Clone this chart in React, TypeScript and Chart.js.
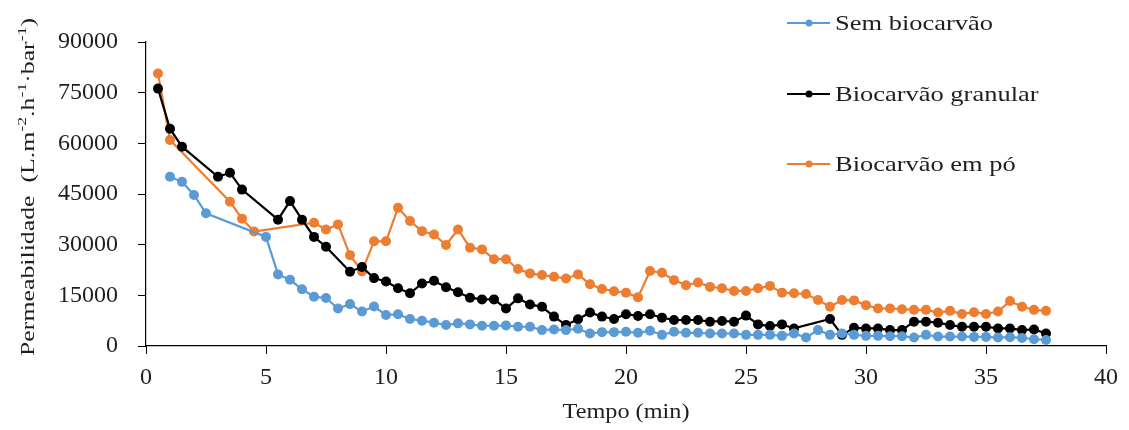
import React, { useEffect, useRef } from "react";
import { Chart, registerables } from "chart.js";

Chart.register(...registerables);

const semX = [1, 1.5, 2, 2.5, 5, 5.5, 6, 6.5, 7, 7.5, 8, 8.5, 9, 9.5, 10, 10.5, 11, 11.5, 12, 12.5, 13, 13.5, 14, 14.5, 15, 15.5, 16, 16.5, 17, 17.5, 18, 18.5, 19, 19.5, 20, 20.5, 21, 21.5, 22, 22.5, 23, 23.5, 24, 24.5, 25, 25.5, 26, 26.5, 27, 27.5, 28, 28.5, 29, 29.5, 30, 30.5, 31, 31.5, 32, 32.5, 33, 33.5, 34, 34.5, 35, 35.5, 36, 36.5, 37, 37.5];
const semY = [50100, 48600, 44700, 39300, 32300, 21200, 19600, 16800, 14600, 14200, 11100, 12400, 10200, 11700, 9200, 9400, 8000, 7500, 6900, 6200, 6700, 6400, 6000, 6000, 6100, 5700, 5700, 4700, 4900, 4700, 5100, 3700, 4100, 4100, 4200, 3900, 4500, 3300, 4200, 3900, 3900, 3700, 3700, 3700, 3300, 3300, 3300, 3000, 3700, 2500, 4700, 3300, 3700, 3300, 3000, 3000, 2900, 2900, 2500, 3300, 2800, 2800, 2800, 2700, 2700, 2500, 2600, 2400, 2000, 1800];

const granX = [0.5, 1, 1.5, 3, 3.5, 4, 5.5, 6, 6.5, 7, 7.5, 8.5, 9, 9.5, 10, 10.5, 11, 11.5, 12, 12.5, 13, 13.5, 14, 14.5, 15, 15.5, 16, 16.5, 17, 17.5, 18, 18.5, 19, 19.5, 20, 20.5, 21, 21.5, 22, 22.5, 23, 23.5, 24, 24.5, 25, 25.5, 26, 26.5, 27, 28.5, 29, 29.5, 30, 30.5, 31, 31.5, 32, 32.5, 33, 33.5, 34, 34.5, 35, 35.5, 36, 36.5, 37, 37.5];
const granY = [76200, 64300, 59000, 50100, 51300, 46300, 37400, 42900, 37400, 32300, 29400, 22000, 23400, 20100, 19100, 17100, 15600, 18500, 19300, 17400, 15900, 14300, 13800, 13800, 11100, 14100, 12300, 11600, 8700, 6200, 7900, 9900, 8700, 8000, 9400, 8900, 9400, 8400, 7700, 7700, 7700, 7200, 7400, 7200, 9000, 6400, 5900, 6400, 5200, 8000, 3300, 5400, 5200, 5200, 4700, 4700, 7200, 7200, 6900, 6200, 5700, 5700, 5700, 5200, 5200, 4700, 4900, 3700];

const poX = [0.5, 1, 3.5, 4, 4.5, 7, 7.5, 8, 8.5, 9, 9.5, 10, 10.5, 11, 11.5, 12, 12.5, 13, 13.5, 14, 14.5, 15, 15.5, 16, 16.5, 17, 17.5, 18, 18.5, 19, 19.5, 20, 20.5, 21, 21.5, 22, 22.5, 23, 23.5, 24, 24.5, 25, 25.5, 26, 26.5, 27, 27.5, 28, 28.5, 29, 29.5, 30, 30.5, 31, 31.5, 32, 32.5, 33, 33.5, 34, 34.5, 35, 35.5, 36, 36.5, 37, 37.5];
const poY = [80700, 61000, 42700, 37700, 33900, 36500, 34500, 36000, 26900, 22100, 31000, 31000, 40900, 37000, 34000, 33000, 29900, 34500, 29100, 28600, 25700, 25700, 22800, 21500, 21000, 20500, 20000, 21200, 18300, 16900, 16200, 15800, 14400, 22200, 21700, 19500, 18000, 18800, 17500, 17100, 16300, 16300, 17100, 17800, 15800, 15600, 15400, 13600, 11600, 13600, 13500, 12100, 11100, 11100, 10900, 10700, 10700, 9900, 10400, 9500, 10000, 9500, 10200, 13300, 11600, 10700, 10400];

const seriesNames = ["Sem biocarvão", "Biocarvão granular", "Biocarvão em pó"];
const seriesColors = ["#5B9BD5", "#000000", "#ED7D31"];
const xTitle = "Tempo (min)";
const yTitleParts: [string, boolean][] = [
  ["Permeabilidade  (L.m", false],
  ["-2", true],
  [".h", false],
  ["-1", true],
  ["·bar", false],
  ["-1", true],
  [")", false],
];

const FONT = "\"Liberation Serif\", \"Times New Roman\", serif";
const TEXT = "#1e1e1e";

const pts = (xs: number[], ys: number[]) => xs.map((x, i) => ({ x, y: ys[i] }));

const decorPlugin = {
  id: "decor",
  afterDraw(chart: any) {
    const ctx = chart.ctx as CanvasRenderingContext2D;
    ctx.save();
    ctx.fillStyle = TEXT;
    ctx.textBaseline = "middle";

    // X title
    ctx.font = `22px ${FONT}`;
    const xw = ctx.measureText(xTitle).width;
    const xs = 127 / xw;
    ctx.save();
    ctx.translate(626, 412);
    ctx.scale(xs, 1);
    ctx.textAlign = "center";
    ctx.fillText(xTitle, 0, 0);
    ctx.restore();

    // Y title (rotated, with superscripts)
    const mainF = `19px ${FONT}`;
    const supF = `13px ${FONT}`;
    let total = 0;
    const widths: number[] = [];
    yTitleParts.forEach(([t, sup]) => {
      ctx.font = sup ? supF : mainF;
      const w = ctx.measureText(t).width;
      widths.push(w);
      total += w;
    });
    const ys = 338 / total;
    ctx.save();
    ctx.translate(29, 187);
    ctx.rotate(-Math.PI / 2);
    ctx.scale(ys, 1);
    ctx.textAlign = "left";
    let cx = -total / 2;
    yTitleParts.forEach(([t, sup], i) => {
      ctx.font = sup ? supF : mainF;
      ctx.fillText(t, cx, sup ? -6 : 0);
      cx += widths[i];
    });
    ctx.restore();

    // Legend
    const ly = [23, 94, 164];
    ctx.font = `22px ${FONT}`;
    const legScale = 158 / ctx.measureText(seriesNames[0]).width;
    seriesNames.forEach((name, i) => {
      const y = ly[i];
      ctx.strokeStyle = seriesColors[i];
      ctx.lineWidth = 2;
      ctx.beginPath();
      ctx.moveTo(787, y);
      ctx.lineTo(830, y);
      ctx.stroke();
      ctx.fillStyle = seriesColors[i];
      ctx.beginPath();
      ctx.arc(809, y, 3.5, 0, Math.PI * 2);
      ctx.fill();
      ctx.fillStyle = TEXT;
      ctx.font = `22px ${FONT}`;
      ctx.textAlign = "left";
      ctx.save();
      ctx.translate(835, y + 1);
      ctx.scale(legScale, 1);
      ctx.fillText(name, 0, 0);
      ctx.restore();
    });
    ctx.restore();
  },
};

export default function App() {
  const ref = useRef<HTMLCanvasElement>(null);
  useEffect(() => {
    let chart: Chart | null = null;
    let cancelled = false;
    const build = () => {
      if (cancelled || !ref.current) return;
      const mk = (i: number, xs: number[], ys: number[]) => ({
        label: seriesNames[i],
        data: pts(xs, ys),
        borderColor: seriesColors[i],
        backgroundColor: seriesColors[i],
        pointBackgroundColor: seriesColors[i],
        pointBorderColor: seriesColors[i],
        pointRadius: 5,
        pointBorderWidth: 0,
        borderWidth: 2.2,
        tension: 0,
      });
      chart = new Chart(ref.current, {
        type: "line",
        data: {
          datasets: [mk(0, semX, semY), mk(1, granX, granY), mk(2, poX, poY)],
        },
        options: {
          animation: false,
          responsive: false,
          maintainAspectRatio: false,
          layout: { padding: { left: 0, top: 42, right: 23, bottom: 0 } },
          plugins: { legend: { display: false }, tooltip: { enabled: false } },
          scales: {
            x: {
              type: "linear",
              min: 0,
              max: 40,
              ticks: { stepSize: 5, color: TEXT, font: { family: FONT, size: 24 }, padding: 9, maxRotation: 0 },
              grid: { display: true, drawOnChartArea: false, tickLength: 8, color: "#000" },
              border: { color: "#000", width: 1.2 },
              afterFit: (s: any) => { s.height = 84; },
            },
            y: {
              min: 0,
              max: 90000,
              ticks: { stepSize: 15000, color: TEXT, font: { family: FONT, size: 24 }, padding: 20, callback: (v: any) => String(v) },
              grid: { display: true, drawOnChartArea: false, tickLength: 8, color: "#000" },
              border: { color: "#000", width: 1.2 },
              afterFit: (s: any) => { s.width = 146; },
            },
          },
        },
        plugins: [decorPlugin],
      });
    };
    const fontsApi: any = (document as any).fonts;
    if (fontsApi && fontsApi.load) {
      Promise.all([
        fontsApi.load('20px "Liberation Serif"'),
        fontsApi.load('13px "Liberation Serif"'),
      ]).then(build, build);
    } else {
      build();
    }
    return () => {
      cancelled = true;
      if (chart) chart.destroy();
    };
  }, []);
  return (
    <div style={{ position: "fixed", left: 0, top: 0, width: 1129, height: 430, background: "#fff" }}>
      <canvas ref={ref} width={1129} height={430} style={{ width: 1129, height: 430 }} />
    </div>
  );
}
